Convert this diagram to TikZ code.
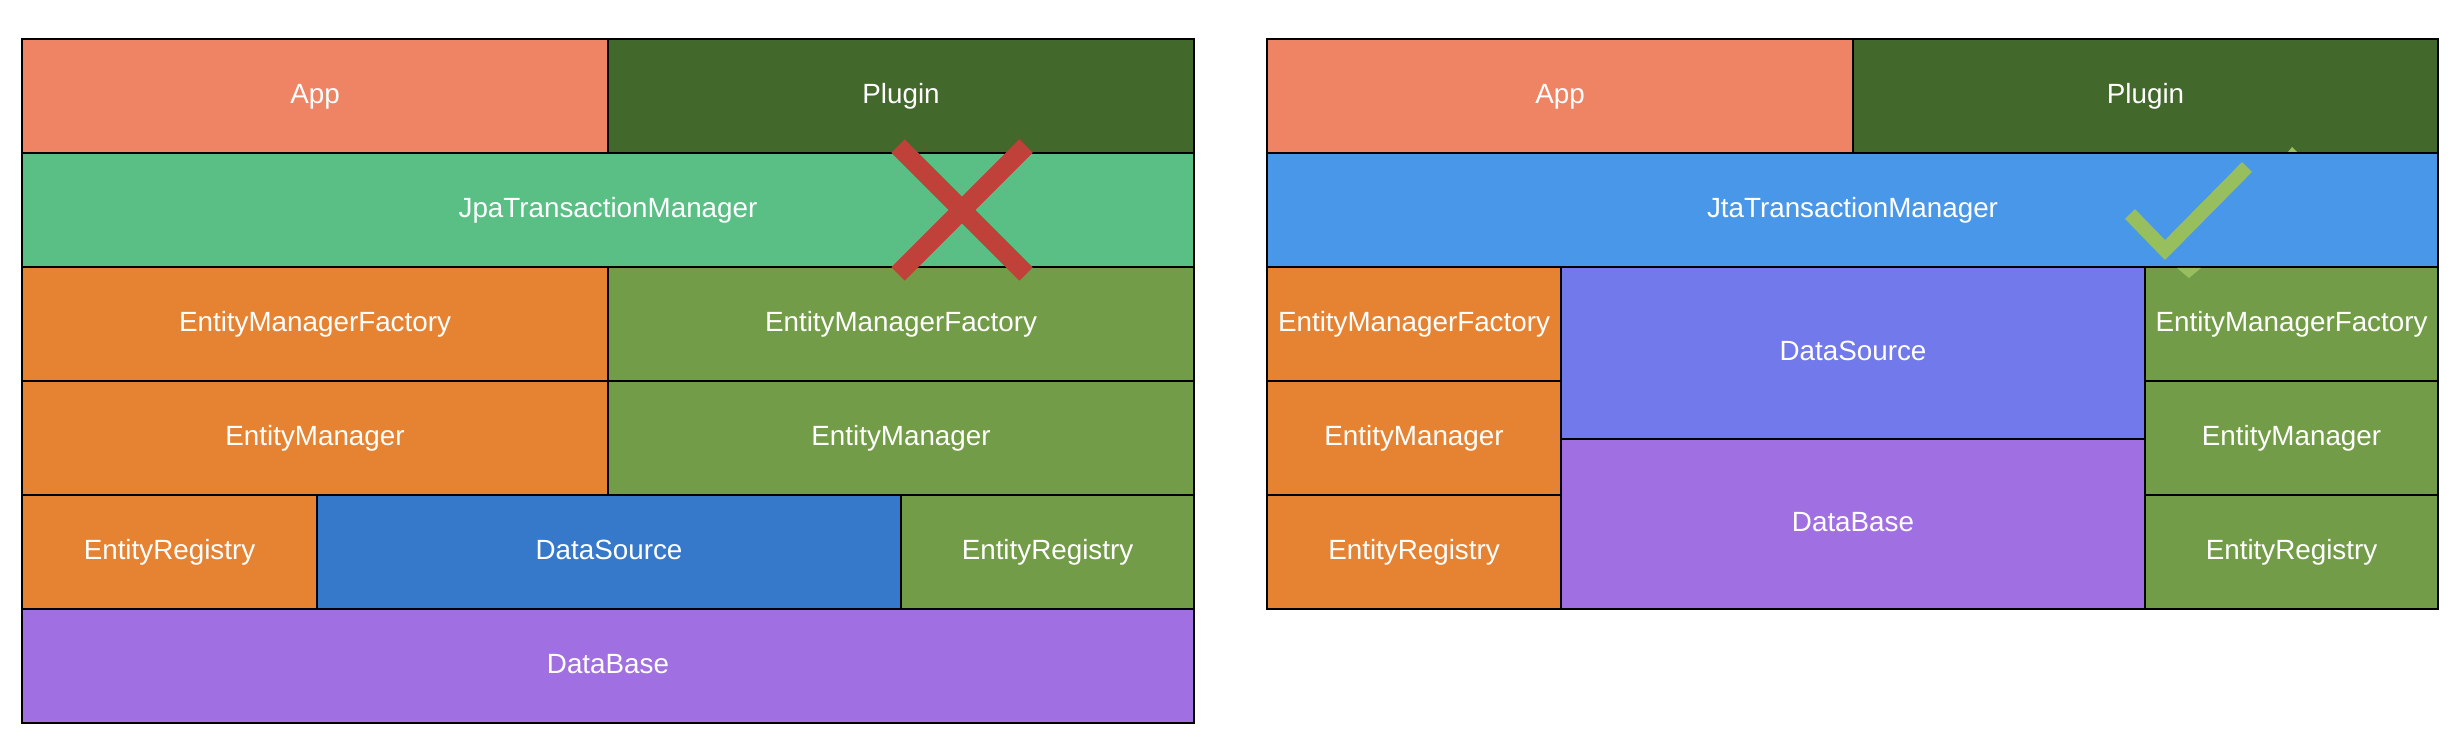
\documentclass[tikz,border=0pt]{standalone}
\usepackage{fontspec}
\setmainfont{Liberation Sans}
\definecolor{appc}{HTML}{EF8464}
\definecolor{plugc}{HTML}{43682B}
\definecolor{jpac}{HTML}{59BF84}
\definecolor{jtac}{HTML}{4897E9}
\definecolor{orng}{HTML}{E68333}
\definecolor{grn}{HTML}{739C48}
\definecolor{dsa}{HTML}{3679CB}
\definecolor{dsb}{HTML}{7279EA}
\definecolor{dbc}{HTML}{A06FE2}
\definecolor{crossc}{HTML}{C0413A}
\definecolor{okc}{HTML}{97BF5D}
\begin{document}
\begin{tikzpicture}[x=0.5pt,y=-0.5pt,
  every node/.style={text=white,font=\fontsize{13.9pt}{16pt}\selectfont,
    text height=0.94em,text depth=0.2em},
  blk/.style={draw=black,line width=1pt}]
\useasboundingbox (0,0) rectangle (2462,748);

% left stack (Jpa)
\foreach \nm/\xa/\ya/\xb/\yb/\c/\t in {
  app1/22/39/608/153/appc/App,
  plg1/608/39/1194/153/plugc/Plugin,
  jpa/22/153/1194/267/jpac/JpaTransactionManager,
  emfa1/22/267/608/381/orng/EntityManagerFactory,
  emfb1/608/267/1194/381/grn/EntityManagerFactory,
  ema1/22/381/608/495/orng/EntityManager,
  emb1/608/381/1194/495/grn/EntityManager,
  era1/22/495/317/609/orng/EntityRegistry,
  ds1/317/495/901/609/dsa/DataSource,
  erb1/901/495/1194/609/grn/EntityRegistry,
  db1/22/609/1194/723/dbc/DataBase}
  \draw[blk,fill=\c] (\xa,\ya) rectangle (\xb,\yb) node[midway] (\nm) {\t};

% right stack (Jta)
\foreach \nm/\xa/\ya/\xb/\yb/\c/\t in {
  app2/1267/39/1853/153/appc/App,
  plg2/1853/39/2438/153/plugc/Plugin,
  jta/1267/153/2438/267/jtac/JtaTransactionManager,
  emfa2/1267/267/1561/381/orng/EntityManagerFactory,
  ema2/1267/381/1561/495/orng/EntityManager,
  era2/1267/495/1561/609/orng/EntityRegistry,
  ds2/1561/267/2145/439/dsb/DataSource,
  db2/1561/439/2145/609/dbc/DataBase,
  emfb2/2145/267/2438/381/grn/EntityManagerFactory,
  emb2/2145/381/2438/495/grn/EntityManager,
  erb2/2145/495/2438/609/grn/EntityRegistry}
  \draw[blk,fill=\c] (\xa,\ya) rectangle (\xb,\yb) node[midway] (\nm) {\t};

% cross
\draw[crossc,line width=9.5pt] (898,146) -- (1026,274) (1026,146) -- (898,274);

% tick
\draw[okc,line width=7pt,miter limit=4] (2130,214) -- (2165,250) -- (2247,167);
\fill[okc] (2288,152) -- (2292,147) -- (2297,152) -- cycle;
\fill[okc] (2177,268) -- (2189,278) -- (2201,268) -- cycle;
\end{tikzpicture}
\end{document}
